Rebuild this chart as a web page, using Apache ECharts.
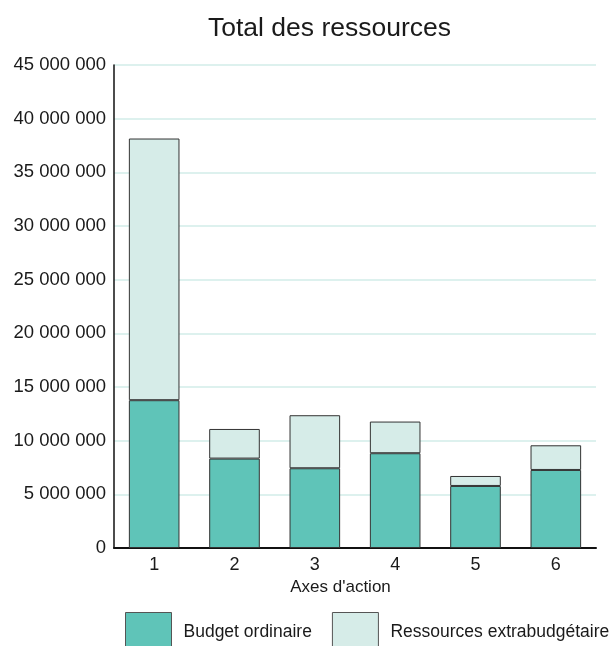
<!DOCTYPE html>
<html>
<head>
<meta charset="utf-8">
<script src="https://cdn.jsdelivr.net/npm/echarts@6/dist/echarts.min.js"></script>
<style>
  html, body { margin: 0; padding: 0; background: #fff; }
  #chart { width: 610px; height: 646px; }
</style>
</head>
<body>
<div id="chart"></div>
<script>
// Axes d'action and their resources (in currency units)
const categories = ['1', '2', '3', '4', '5', '6'];
const budgetOrdinaire = [13770000, 8330000, 7430000, 8830000, 5780000, 7270000];
const ressourcesExtra = [24380000, 2760000, 4940000, 2950000, 930000, 2300000];
const yTicks = [0, 5000000, 10000000, 15000000, 20000000, 25000000, 30000000, 35000000, 40000000, 45000000];

const FONT = '"Liberation Sans", Arial, Helvetica, sans-serif';
const INK = '#1a1a1a';

function spaced(v) {
  return String(v).replace(/\B(?=(\d{3})+(?!\d))/g, ' ');
}

const chart = echarts.init(document.getElementById('chart'), null, { renderer: 'canvas' });

chart.setOption({
  animation: false,
  textStyle: { fontFamily: FONT },
  title: {
    text: 'Total des ressources',
    left: 203,
    top: 10,
    textStyle: { fontFamily: FONT, fontSize: 26.5, fontWeight: 'normal', color: INK }
  },
  grid: { left: 114, right: 14, top: 65, bottom: 98, containLabel: false },
  legend: {
    left: 120,
    top: 607,
    width: 700,
    icon: 'rect',
    itemWidth: 46,
    itemHeight: 40,
    itemGap: 20,
    textStyle: { fontFamily: FONT, fontSize: 17.5, color: INK, padding: [0, 0, 0, 7] },
    data: [
      { name: 'Budget ordinaire', itemStyle: { borderColor: '#555', borderWidth: 1 } },
      { name: 'Ressources extrabudgétaire', itemStyle: { borderColor: '#555', borderWidth: 1 } }
    ]
  },
  xAxis: {
    type: 'category',
    data: categories,
    name: "Axes d'action",
    nameLocation: 'middle',
    nameGap: 26,
    nameTextStyle: { fontFamily: FONT, fontSize: 17, color: INK, padding: [0, 29, 0, 0] },
    axisLine: { lineStyle: { color: '#111', width: 2 } },
    axisTick: { show: false },
    axisLabel: { fontFamily: FONT, fontSize: 18, color: INK, margin: 8 }
  },
  yAxis: {
    type: 'value',
    min: yTicks[0],
    max: yTicks[yTicks.length - 1],
    interval: yTicks[1] - yTicks[0],
    axisLine: { show: true, lineStyle: { color: '#111', width: 1.5 } },
    axisTick: { show: false },
    axisLabel: {
      fontFamily: FONT, fontSize: 18.5, color: INK, margin: 8,
      formatter: v => spaced(v)
    },
    splitLine: { lineStyle: { color: '#d2ede8', width: 1.5 } }
  },
  series: [
    {
      name: 'Budget ordinaire',
      type: 'bar',
      stack: 'total',
      data: budgetOrdinaire,
      barWidth: '63%',
      itemStyle: { color: '#5fc4b8', borderColor: '#333', borderWidth: 1 }
    },
    {
      name: 'Ressources extrabudgétaire',
      type: 'bar',
      stack: 'total',
      data: ressourcesExtra,
      barWidth: '63%',
      itemStyle: { color: '#d6ece8', borderColor: '#333', borderWidth: 1 }
    }
  ]
});
</script>
</body>
</html>
